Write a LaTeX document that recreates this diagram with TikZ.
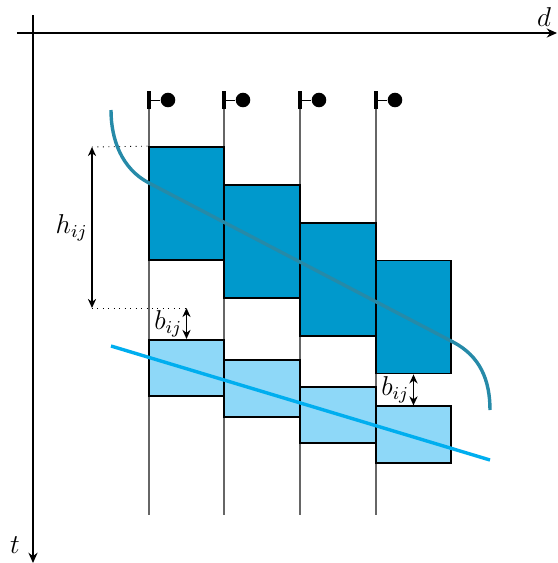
\documentclass[tikz,border=0pt]{standalone}
\usepackage{tikz}
\usetikzlibrary{positioning,arrows.meta,calc}
\definecolor{azuloscuro}{RGB}{0,153,204}
\definecolor{azulclaro}{RGB}{142,216,248}
\definecolor{verdeazul}{RGB}{38,138,168}
\definecolor{cian}{RGB}{0,174,239}

\begin{document}
\begin{tikzpicture}[x=0.44pt,y=-0.44pt,
  bloque/.style={draw=black, thick, fill=#1, minimum width=33.2pt, inner sep=0pt},
  guia/.style={draw=black!60, line width=0.5pt},
  punto/.style={circle, fill=black, inner sep=0pt, minimum size=6.4pt},
  cota/.style={{Stealth[length=4pt,width=3.6pt]}-{Stealth[length=4pt,width=3.6pt]}, thick},
  eje/.style={-{Stealth[length=4.5pt,width=4pt]}, thick},
  etiqueta/.style={font=\large, inner sep=1.5pt}
]
\useasboundingbox (0,0) rectangle (557,563);
% Ejes
\coordinate (ex0) at (17,33);
\coordinate (ex1) at (557,33);
\coordinate (et0) at (33,15);
\coordinate (et1) at (33,563);
\draw[eje] (ex0) -- (ex1);
\draw[eje] (et0) -- (et1);
\node[etiqueta] (etd) at (544,17) {$d$};
\node[etiqueta] (ett) at (15,545) {$t$};
% Guias
\foreach \i/\x in {1/149,2/224,3/300,4/376}{
  \coordinate (m\i) at (\x,100);
  \coordinate (p\i) at (\x,515);
  \node[punto] (c\i) at (\x+19,100) {};
  \draw[guia] (m\i) -- (p\i);
  \draw (m\i) -- (c\i);
  \draw[line width=1.8pt] ($(m\i)+(0,-9)$) -- ($(m\i)+(0,9)$);
}
% Bloques
\node[bloque=azuloscuro, minimum height=49.7pt] (b1) at (186.5,203.5) {};
\node[bloque=azuloscuro, minimum height=49.7pt] (b2) at (262,241.5) {};
\node[bloque=azuloscuro, minimum height=49.7pt] (b3) at (338,279.5) {};
\node[bloque=azuloscuro, minimum height=49.7pt] (b4) at (413.5,317) {};
\node[bloque=azulclaro, minimum height=24.8pt] (l1) at (186.5,368) {};
\node[bloque=azulclaro, minimum height=24.8pt] (l2) at (262,388.5) {};
\node[bloque=azulclaro, minimum height=24.8pt] (l3) at (338,415) {};
\node[bloque=azulclaro, minimum height=24.8pt] (l4) at (413.5,434.5) {};
% Curvas
\draw[verdeazul, line width=1.5pt] (111,110) .. controls (111,140) and (122,169) .. (149,183)
  -- (453,342) .. controls (480,356) and (490,380) .. (490,410);
\draw[cian, line width=1.5pt] (111,346) -- (490,460);
% Cotas
\coordinate (h1) at (92,147);
\coordinate (h2) at (92,308);
\coordinate (e1) at (186.5,308);
\draw[dotted] (h1) -- (b1.north west);
\draw[dotted] (h2) -- (e1);
\draw[cota] (h1) -- node[etiqueta, left] {$h_{ij}$} (h2);
\draw[cota] (e1) -- node[etiqueta, left] {$b_{ij}$} (l1.north);
\draw[cota] (b4.south) -- node[etiqueta, left] {$b_{ij}$} (l4.north);
\end{tikzpicture}
\end{document}
